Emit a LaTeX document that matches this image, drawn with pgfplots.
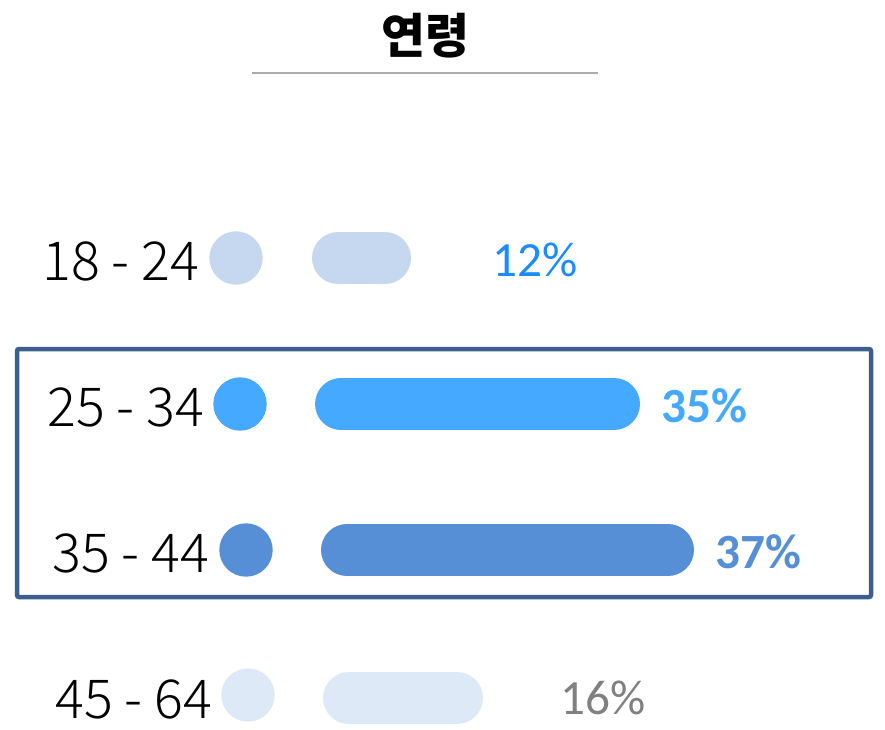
\documentclass[border=0pt]{standalone}
\usepackage{fontspec}
\setmainfont{Noto Sans CJK KR}
\newfontfamily\catfont{Noto Sans CJK KR Light}
\newfontfamily\pctfont{Carlito}
\usepackage{pgfplots}
\pgfplotsset{compat=1.18}
\definecolor{c1}{HTML}{C6D8F0}
\definecolor{c2}{HTML}{45AAFF}
\definecolor{c3}{HTML}{568FD6}
\definecolor{c4}{HTML}{DDE9F6}
\definecolor{t1}{HTML}{1A8CFF}
\definecolor{t4}{HTML}{808080}
\definecolor{boxc}{HTML}{3D5F8E}
\tikzset{
  catlab/.style={font=\catfont\fontsize{15.3}{17}\selectfont, anchor=east, inner sep=0pt},
  pct/.style={font=\pctfont\fontsize{14}{16}\selectfont, anchor=west, inner sep=0pt},
  pctb/.style={font=\pctfont\bfseries\fontsize{14}{16}\selectfont, anchor=west, inner sep=0pt},
}
\begin{document}
\begin{tikzpicture}
\begin{axis}[
  width=8.85cm, height=7.29cm, scale only axis,
  xmin=0, xmax=885, ymin=0, ymax=729, y dir=reverse,
  hide axis, clip=true,
]
% bars (round caps, thickness 52px)
\addplot[draw=c1, line width=5.2mm, line cap=round] coordinates {(338,258) (385,258)};
\addplot[draw=c2, line width=5.2mm, line cap=round] coordinates {(341,404) (614,404)};
\addplot[draw=c3, line width=5.2mm, line cap=round] coordinates {(347,550) (668,550)};
\addplot[draw=c4, line width=5.2mm, line cap=round] coordinates {(349,698) (457,698)};
% dots
\addplot[only marks, mark=*, mark size=2.6mm, c1] coordinates {(236,258)};
\addplot[only marks, mark=*, mark size=2.6mm, c2] coordinates {(240,404)};
\addplot[only marks, mark=*, mark size=2.6mm, c3] coordinates {(246,550)};
\addplot[only marks, mark=*, mark size=2.6mm, c4] coordinates {(248,695)};
% highlight box
\draw[boxc, line width=0.45mm, rounded corners=0.2mm] (axis cs:17,349) rectangle (axis cs:871,597);
% title + underline
\node[font=\bfseries\fontsize{13.6}{16}\selectfont] at (axis cs:425,36) {연령};
\draw[black!33, line width=0.25mm] (axis cs:252,73) -- (axis cs:598,73);
% category labels
\node[catlab] at (axis cs:200,261) {18 - 24};
\node[catlab] at (axis cs:205,407) {25 - 34};
\node[catlab] at (axis cs:210,553) {35 - 44};
\node[catlab] at (axis cs:213,699) {45 - 64};
% values
\node[pct, text=t1] at (axis cs:492,260) {12\%};
\node[pctb, text=c2] at (axis cs:661,406) {35\%};
\node[pctb, text=c3] at (axis cs:715,552) {37\%};
\node[pct, text=t4] at (axis cs:560,698) {16\%};
\end{axis}
\pgfresetboundingbox
\path (current axis.south west) rectangle (current axis.north east);
\end{tikzpicture}
\end{document}
